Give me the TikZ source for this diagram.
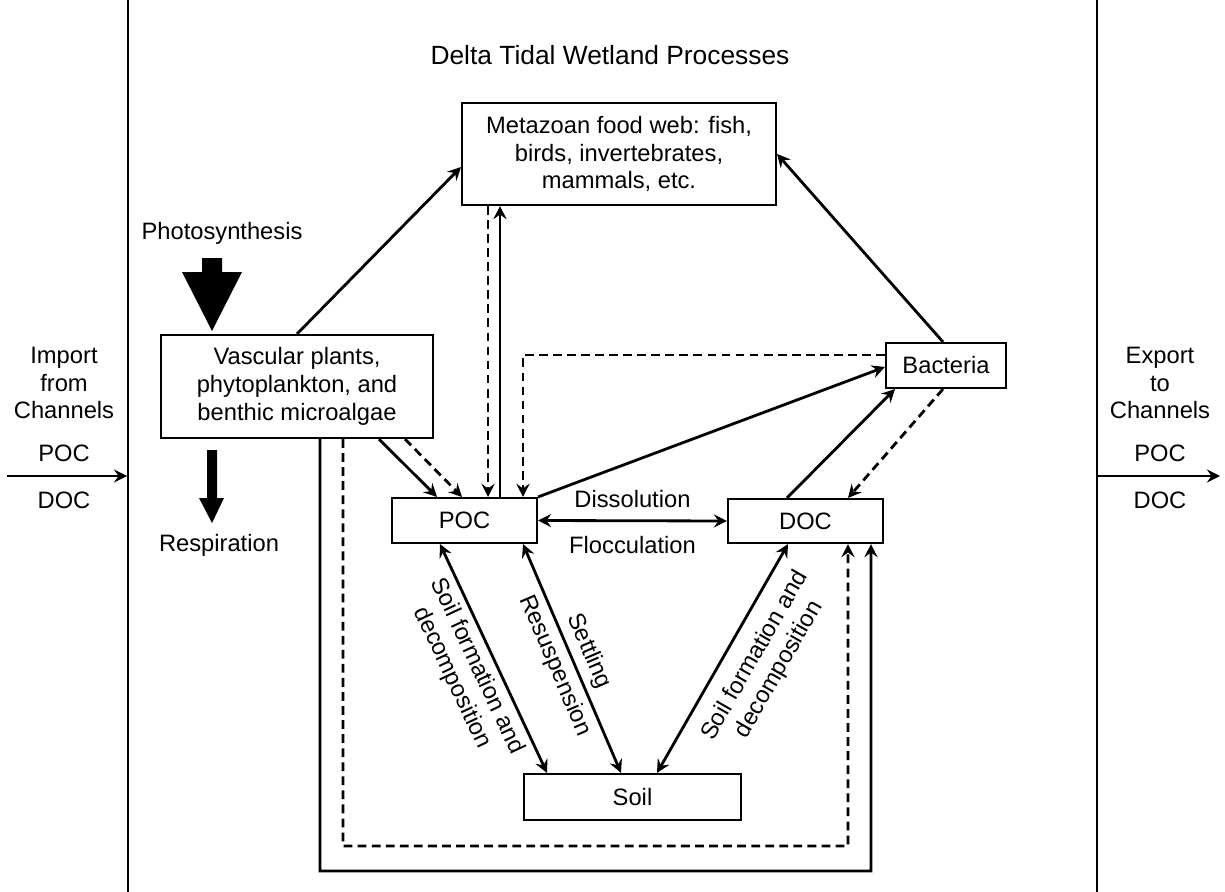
\documentclass[tikz,border=0pt]{standalone}
\usepackage{fontspec}
\setmainfont{Liberation Sans}
\usetikzlibrary{arrows.meta}

\begin{document}
\begin{tikzpicture}[x=0.02cm, y=-0.02cm, font=\fontsize{13.5}{15.8}\selectfont,
    box/.style={draw, line width=1.2pt, align=center, inner sep=0pt},
    flow/.style={line width=1.6pt, -{Stealth[length=7.5pt,width=7.5pt,inset=2.7pt]}},
    twoway/.style={line width=1.6pt, {Stealth[length=7.5pt,width=7.5pt,inset=2.7pt]}-{Stealth[length=7.5pt,width=7.5pt,inset=2.7pt]}},
    broken/.style={dash pattern=on 5pt off 3pt}]
 \useasboundingbox (0,0) rectangle (1225,892);
 \clip (0,0) rectangle (1225,892);
 \node[box, minimum width=19.38cm, minimum height=19cm] (frame) at (612.5,446) {};
 \node (title) at (610,55) {\fontsize{15}{18}\selectfont Delta Tidal Wetland Processes};

 \node[box, minimum width=6.28cm, minimum height=2.04cm] (meta) at (619,154) {Metazoan food web: fish,\\birds, invertebrates,\\mammals, etc.};
 \node[box, minimum width=5.44cm, minimum height=2.06cm] (veg) at (297,386.5) {Vascular plants,\\phytoplankton, and\\benthic microalgae};
 \node[box, minimum width=2.4cm, minimum height=0.9cm] (bact) at (946,365.5) {Bacteria};
 \node[box, minimum width=2.9cm, minimum height=0.9cm] (poc) at (464.5,520.5) {POC};
 \node[box, minimum width=3.1cm, minimum height=0.88cm] (doc) at (805.5,521) {DOC};
 \node[box, minimum width=4.34cm, minimum height=0.92cm] (soil) at (632.5,797) {Soil};

 \node[align=center] (imp) at (64,383) {Import\\from\\Channels};
 \node (impoc) at (64,453) {POC};
 \node (impdoc) at (64,500) {DOC};
 \node[align=center] (exp) at (1160,383) {Export\\to\\Channels};
 \node (expoc) at (1160,453) {POC};
 \node (expdoc) at (1160,500) {DOC};
 \node (photo) at (222,233) {Photosynthesis};
 \node (resp) at (219,545) {Respiration};

 % big arrows
 \fill (202,258) -- (222,258) -- (222,272) -- (242,272) -- (212,331) -- (182,272) -- (202,272) -- cycle;
 \fill (207,450) -- (217,450) -- (217,498) -- (224,498) -- (212,523) -- (199,498) -- (207,498) -- cycle;

 \coordinate (dcorner) at (848,846);
 \coordinate (scorner) at (871,871);
 \coordinate (impstart) at (7,476);
 \coordinate (expend) at (1220,476);

 \draw[flow] (veg.north) -- ([yshift=-0.26cm]meta.west);
 \draw[flow] ([xshift=-0.06cm]bact.north) -- (meta.east);
 \draw[flow, broken] ([xshift=-2.62cm]meta.south) to (\tikztostart |- poc.north);
 \draw[flow] ([xshift=0.71cm]poc.north) to (\tikztostart |- meta.south);
 \draw[flow] ([xshift=1.64cm]veg.south) -- ([xshift=-0.55cm]poc.north);
 \draw[flow, broken] ([xshift=2.16cm]veg.south) -- ([xshift=-0.05cm]poc.north);
 \draw[flow, broken] ([yshift=0.21cm]bact.west) -| ([xshift=1.17cm]poc.north);
 \draw[flow] (poc.north east) -- ([yshift=-0.03cm]bact.west);
 \draw[flow] ([xshift=-0.37cm]doc.north) -- ([xshift=-1.02cm]bact.south);
 \draw[flow, broken] ([xshift=-0.06cm]bact.south) -- ([xshift=0.85cm]doc.north);
 \draw[twoway] (poc.east) -- node[above=3pt] {Dissolution} node[below=5pt] {Flocculation} (doc.west);

 \draw[twoway] ([xshift=-0.49cm]poc.south) -- node[sloped, below, align=center] {Soil formation and\\decomposition} ([xshift=-1.71cm]soil.north);
 \draw[twoway] ([xshift=1.17cm]poc.south) -- node[sloped, below] {Resuspension} node[sloped, above] {Settling} ([xshift=-0.23cm]soil.north);
 \draw[twoway] ([xshift=0.49cm]soil.north) -- node[pos=0.57, sloped, below=5pt, align=center] {Soil formation and\\decomposition} ([xshift=-0.35cm]doc.south);

 \draw[flow, broken] ([xshift=0.92cm]veg.south) |- (dcorner) -- ([xshift=0.85cm]doc.south);
 \draw[flow] ([xshift=0.46cm]veg.south) |- (scorner) -- ([xshift=1.31cm]doc.south);

 \draw[flow] (impstart) -- (impstart -| frame.west);
 \draw[flow] (frame.east |- expend) -- (expend);
\end{tikzpicture}
\end{document}
